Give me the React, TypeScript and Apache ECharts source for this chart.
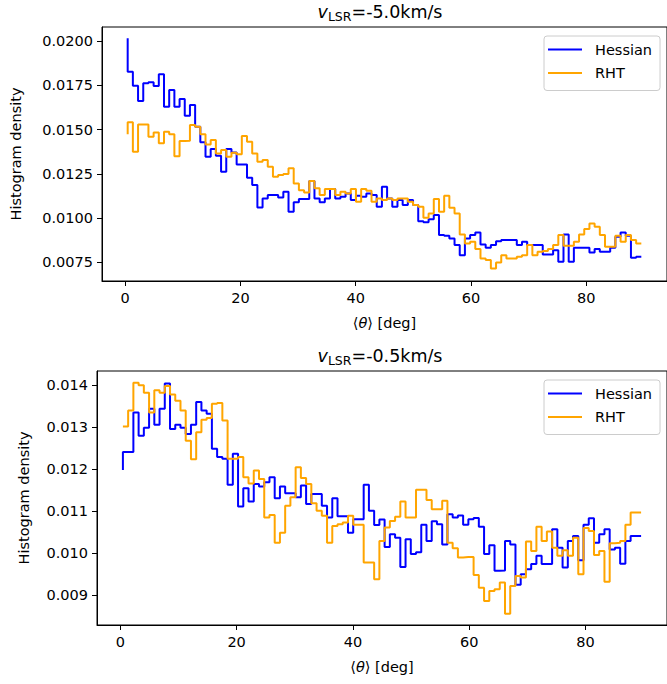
import { useEffect, useRef } from 'react';
import * as echarts from 'echarts';

// 100 bins of 0.9 deg over 0–90 deg, drawn as matplotlib step('pre') lines
const BIN_WIDTH = 0.9;

// v_LSR = -5.0 km/s
const TOP_HESSIAN = [
  0.02015, 0.01827, 0.01748, 0.01661, 0.01761, 0.01767, 0.01746, 0.01812, 0.01629, 0.01723,
  0.01629, 0.01672, 0.01578, 0.01638, 0.01516, 0.01428, 0.01347, 0.0139, 0.01352, 0.01262,
  0.0139, 0.01371, 0.01303, 0.01303, 0.01228, 0.01187, 0.0106, 0.01111, 0.0113, 0.0113,
  0.01117, 0.01149, 0.01036, 0.01089, 0.01108, 0.01108, 0.01209, 0.01111, 0.01089, 0.01111,
  0.01164, 0.01111, 0.01121, 0.01139, 0.01102, 0.01126, 0.01121, 0.01139, 0.0113, 0.01064,
  0.01177, 0.01111, 0.01064, 0.01102, 0.01074, 0.01102, 0.01074, 0.00983, 0.00976, 0.00994,
  0.01017, 0.00904, 0.009, 0.00885, 0.00848, 0.00791, 0.00885, 0.00904, 0.00919, 0.00851,
  0.00833, 0.00848, 0.0087, 0.00876, 0.00876, 0.00876, 0.00848, 0.00866, 0.00848, 0.00848,
  0.00848, 0.00795, 0.00795, 0.00819, 0.00753, 0.00908, 0.00753, 0.00833, 0.00833, 0.00833,
  0.00806, 0.00825, 0.0081, 0.0081, 0.00833, 0.00895, 0.00919, 0.009, 0.00776, 0.00782,
];
const TOP_RHT = [
  0.01473, 0.01541, 0.01375, 0.01529, 0.01529, 0.0146, 0.01484, 0.01422, 0.01488, 0.01473,
  0.0135, 0.01435, 0.01437, 0.01526, 0.01516, 0.01473, 0.01416, 0.01441, 0.01365, 0.01384,
  0.01347, 0.01369, 0.0136, 0.01463, 0.01431, 0.01365, 0.01318, 0.01328, 0.0129, 0.01234,
  0.01243, 0.01249, 0.01281, 0.01196, 0.01158, 0.01145, 0.01209, 0.01168, 0.0113, 0.01164,
  0.01164, 0.0113, 0.01149, 0.01139, 0.01164, 0.01092, 0.01164, 0.01155, 0.01092, 0.01111,
  0.01102, 0.01111, 0.01102, 0.01111, 0.01111, 0.01092, 0.01074, 0.01064, 0.01002, 0.01026,
  0.01108, 0.01036, 0.01126, 0.01059, 0.01026, 0.00908, 0.00857, 0.00866, 0.00825, 0.00772,
  0.00763, 0.00716, 0.0075, 0.00791, 0.00772, 0.00772, 0.00782, 0.00791, 0.00848, 0.00791,
  0.0081, 0.00814, 0.00825, 0.00848, 0.00904, 0.00844, 0.00844, 0.00866, 0.00908, 0.00938,
  0.0097, 0.00951, 0.00904, 0.00838, 0.00838, 0.009, 0.00866, 0.00904, 0.00876, 0.00857,
];

// v_LSR = -0.5 km/s
const BOTTOM_HESSIAN = [
  0.01198, 0.01241, 0.01241, 0.01335, 0.0128, 0.01299, 0.01344, 0.01306, 0.01344, 0.01404,
  0.01296, 0.01306, 0.01299, 0.01284, 0.01306, 0.0136, 0.0134, 0.01332, 0.01249, 0.01229,
  0.01225, 0.01163, 0.01237, 0.01111, 0.01155, 0.01123, 0.01165, 0.01159, 0.01169, 0.01181,
  0.01131, 0.01159, 0.01143, 0.01143, 0.01133, 0.01161, 0.01117, 0.01141, 0.01141, 0.01113,
  0.01085, 0.01131, 0.01088, 0.01088, 0.01049, 0.01081, 0.01081, 0.01163, 0.01101, 0.01067,
  0.0108, 0.01015, 0.01045, 0.01037, 0.00967, 0.01033, 0.00998, 0.01002, 0.01068, 0.01029,
  0.01076, 0.01069, 0.01021, 0.01093, 0.01085, 0.0109, 0.01068, 0.01081, 0.01084, 0.01063,
  0.00998, 0.01019, 0.00958, 0.00959, 0.01029, 0.01021, 0.00925, 0.0095, 0.00962, 0.00974,
  0.00994, 0.00974, 0.00974, 0.01057, 0.01013, 0.00966, 0.01029, 0.01041, 0.00983, 0.01068,
  0.01083, 0.01025, 0.01045, 0.01057, 0.01009, 0.01013, 0.00975, 0.01029, 0.01041, 0.01041,
];
const BOTTOM_RHT = [
  0.01302, 0.01302, 0.0134, 0.01406, 0.014, 0.01382, 0.01335, 0.01388, 0.01382, 0.01398,
  0.01378, 0.01363, 0.0134, 0.01268, 0.01224, 0.01288, 0.01318, 0.01322, 0.01356, 0.01358,
  0.01316, 0.01225, 0.01225, 0.01229, 0.01181, 0.01166, 0.01197, 0.01177, 0.01085, 0.01091,
  0.01025, 0.01049, 0.01113, 0.01133, 0.01205, 0.01179, 0.01165, 0.01119, 0.01101, 0.01089,
  0.01025, 0.01065, 0.01069, 0.01073, 0.01089, 0.01068, 0.01068, 0.00978, 0.00978, 0.00938,
  0.01029, 0.01061, 0.01077, 0.01087, 0.01123, 0.01085, 0.01085, 0.01151, 0.01151, 0.01127,
  0.01105, 0.01105, 0.01125, 0.01025, 0.01012, 0.0099, 0.00991, 0.00991, 0.00948, 0.00918,
  0.00886, 0.0091, 0.00914, 0.0093, 0.00856, 0.00922, 0.00946, 0.00942, 0.01028, 0.01005,
  0.01063, 0.01029, 0.01052, 0.01013, 0.00994, 0.01007, 0.00994, 0.01037, 0.0095, 0.0106,
  0.01053, 0.00996, 0.01005, 0.00932, 0.01024, 0.01025, 0.01029, 0.01068, 0.01097, 0.01097,
];

const X_TICKS = [0, 20, 40, 60, 80];
const TOP_Y_TICKS = [0.0075, 0.01, 0.0125, 0.015, 0.0175, 0.02];
const BOTTOM_Y_TICKS = [0.009, 0.01, 0.011, 0.012, 0.013, 0.014];
const TITLES = ['-5.0km/s', '-0.5km/s'];
const SERIES_NAMES = ['Hessian', 'RHT'];
const COLORS = ['#0000ff', '#ffa500'];

const FONT = 'DejaVu Sans';
const FS = 14.5;

const toSteps = (values: number[]) =>
  values.map((v, i) => [(i + 0.5) * BIN_WIDTH, v]);

export default function App() {
  const chartRef = useRef<HTMLDivElement>(null);

  useEffect(() => {
    if (!chartRef.current) return;
    const chart = echarts.init(chartRef.current, undefined, { renderer: 'svg' });

    const grids = [
      { left: 97, top: 27, width: 572, height: 254 },
      { left: 97, top: 371, width: 572, height: 254 },
    ];
    const yRanges = [
      { min: 0.00645, max: 0.02079, ticks: TOP_Y_TICKS, digits: 4, gap: 79 },
      { min: 0.00829, max: 0.01434, ticks: BOTTOM_Y_TICKS, digits: 3, gap: 66 },
    ];
    const labelStyle = { color: '#000', fontSize: FS, fontFamily: FONT };

    const xAxis = grids.map((_, gi) => ({
      type: 'value',
      gridIndex: gi,
      min: -4.005,
      max: 94.005,
      axisLine: { show: true, onZero: false, lineStyle: { color: '#000', width: 1 } },
      axisTick: { show: true, length: 5, customValues: X_TICKS, lineStyle: { color: '#000', width: 1 } },
      axisLabel: { ...labelStyle, margin: 9, customValues: X_TICKS },
      splitLine: { show: false },
      name: '\u27e8{i|\u03b8}\u27e9 [deg]',
      nameLocation: 'middle',
      nameGap: 34,
      nameTextStyle: {
        ...labelStyle,
        rich: { i: { ...labelStyle, fontStyle: 'italic' } },
      },
    }));

    const yAxis = yRanges.map((r, gi) => ({
      type: 'value',
      gridIndex: gi,
      min: r.min,
      max: r.max,
      axisLine: { show: true, onZero: false, lineStyle: { color: '#000', width: 1 } },
      axisTick: { show: true, length: 5, customValues: r.ticks, lineStyle: { color: '#000', width: 1 } },
      axisLabel: {
        ...labelStyle,
        margin: 9,
        customValues: r.ticks,
        formatter: (v: number) => v.toFixed(r.digits),
      },
      splitLine: { show: false },
      name: 'Histogram density',
      nameLocation: 'middle',
      nameGap: r.gap,
      nameTextStyle: labelStyle,
    }));

    const data = [
      [TOP_HESSIAN, TOP_RHT],
      [BOTTOM_HESSIAN, BOTTOM_RHT],
    ];
    const series = data.flatMap((pair, gi) =>
      pair.map((values, si) => ({
        name: SERIES_NAMES[si],
        type: 'line',
        xAxisIndex: gi,
        yAxisIndex: gi,
        step: 'start',
        symbol: 'none',
        silent: true,
        data: toSteps(values),
        lineStyle: { color: COLORS[si], width: 2 },
        itemStyle: { color: COLORS[si] },
        z: 2 + si,
      })),
    );

    const legend = grids.map((g) => ({
      data: SERIES_NAMES,
      orient: 'vertical',
      left: 544,
      top: g.top + 9,
      icon: 'rect',
      itemWidth: 34,
      itemHeight: 2,
      itemGap: 6.5,
      padding: [5, 8, 9, 4],
      borderColor: '#cccccc',
      borderWidth: 1,
      borderRadius: 3,
      backgroundColor: 'rgba(255,255,255,0.8)',
      selectedMode: false,
      textStyle: { ...labelStyle, lineHeight: 17, padding: [0, 0, 0, 8] },
    }));

    const titleFs = 17.5;
    const graphic = grids.map((g, gi) => ({
      type: 'text',
      x: g.left + g.width / 2 - 3,
      y: g.top - 15,
      style: {
        text: `{i|v}{s|LSR}{n|=${TITLES[gi]}}`,
        align: 'center',
        verticalAlign: 'middle',
        rich: {
          i: { fontFamily: FONT, fontSize: titleFs, fontStyle: 'italic', color: '#000', lineHeight: 22 },
          s: { fontFamily: FONT, fontSize: 12.5, color: '#000', lineHeight: 10, verticalAlign: 'bottom' },
          n: { fontFamily: FONT, fontSize: titleFs, color: '#000', lineHeight: 22 },
        },
      },
    }));

    chart.setOption({
      animation: false,
      backgroundColor: '#ffffff',
      grid: grids.map((g) => ({ ...g, show: true, borderColor: '#000', borderWidth: 1 })),
      xAxis,
      yAxis,
      legend,
      graphic,
      series,
    });

    return () => {
      chart.dispose();
    };
  }, []);

  return (
    <div
      ref={chartRef}
      style={{ position: 'absolute', left: 0, top: 0, width: 667, height: 684 }}
    />
  );
}
